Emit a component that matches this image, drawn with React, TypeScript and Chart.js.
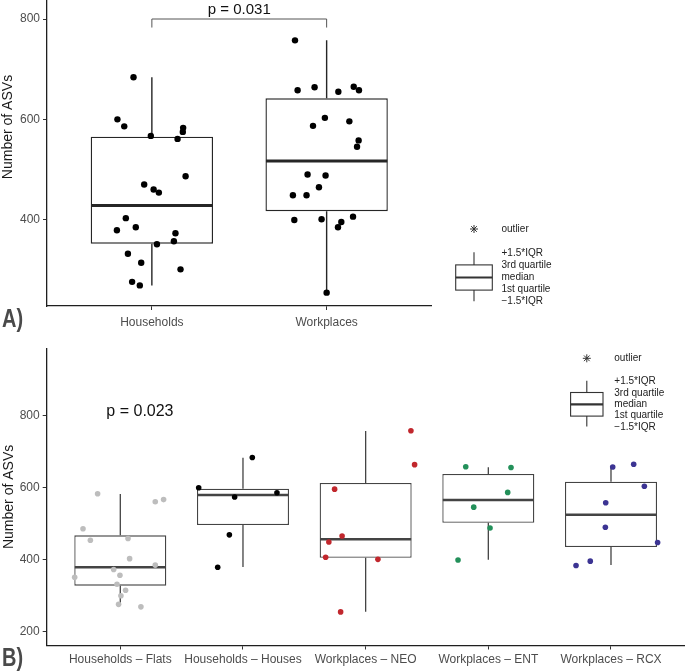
import React, { useEffect, useRef } from 'react';
import { Chart, registerables } from 'chart.js';

Chart.register(...registerables);

// ---------------- Panel A data ----------------
const panelACategories = ['Households', 'Workplaces'];
const panelAYTicks = [400, 600, 800];
const householdsValues = [684, 600, 586, 567, 583, 575, 561, 486.5, 470, 460, 454, 403, 379, 385, 373, 351, 357, 332, 314, 301, 276, 269];
const householdsJitter = [-0.105, -0.197, -0.158, -0.006, 0.179, 0.177, 0.147, 0.193, -0.044, 0.01, 0.04, -0.149, -0.2, -0.092, 0.135, 0.029, 0.126, -0.137, -0.061, 0.164, -0.113, -0.069];
const workplacesValues = [757.5, 658, 664, 655, 665, 658, 603, 587, 596, 558, 545.5, 490, 488, 464.5, 448.6, 448.6, 399.4, 400.7, 406, 395.4, 384.8, 254.5];
const workplacesJitter = [-0.181, -0.166, -0.069, 0.067, 0.155, 0.185, -0.01, -0.078, 0.13, 0.183, 0.174, -0.109, -0.006, -0.044, -0.193, -0.115, -0.185, -0.029, 0.151, 0.084, 0.065, 0];
// [lower whisker, Q1, median, Q3, upper whisker]
const householdsBox = [269, 352, 428, 565.4, 684];
const workplacesBox = [255, 417, 517, 642, 757.5];
const panelAPValue = 'p = 0.031';

// ---------------- Panel B data ----------------
const panelBCategories = ['Households \u2013 Flats', 'Households \u2013 Houses', 'Workplaces \u2013 NEO', 'Workplaces \u2013 ENT', 'Workplaces \u2013 RCX'];
const panelBYTicks = [200, 400, 600, 800];
const flatsValues = [583, 486, 454, 459, 561, 567, 403, 385, 373, 351, 357, 332, 315, 300, 276, 269];
const flatsJitter = [-0.185, -0.304, -0.244, 0.063, 0.285, 0.353, 0.076, 0.285, -0.054, -0.372, -0.003, -0.027, 0.043, 0.005, -0.014, 0.168];
const housesValues = [684, 600, 574, 586, 469, 379];
const housesJitter = [0.076, -0.361, -0.068, 0.277, -0.111, -0.206];
const neoValues = [758, 664, 401, 596, 466, 449, 407, 255];
const neoJitter = [0.369, 0.399, 0.1, -0.253, -0.192, -0.3, -0.326, -0.204];
const entValues = [658, 656, 587, 546, 488, 399];
const entJitter = [-0.184, 0.185, 0.158, -0.119, 0.014, -0.247];
const rcxValues = [657.5, 665, 604, 558, 490, 448, 384, 396];
const rcxJitter = [0.014, 0.185, 0.272, -0.043, -0.046, 0.38, -0.285, -0.169];
const flatsBox = [280, 328, 379, 467.7, 582.5];
const housesBox = [379.7, 496.4, 579.7, 597.2, 683.3];
const neoBox = [255.6, 405.6, 456.7, 613, 757.5];
const entBox = [400, 502.8, 565.8, 638, 656.7];
const rcxBox = [385.3, 435.3, 525, 616.7, 658.3];
const panelBColors = ['#bdbdbd', '#000000', '#c1272d', '#23905a', '#3c3493'];
const panelBPValue = 'p = 0.023';

const legendLabels = ['+1.5*IQR', '3rd quartile', 'median', '1st quartile', '\u22121.5*IQR'];

const SANS = '"Liberation Sans", Arial, sans-serif';

function boxExtrasPlugin(boxes: number[][], color: string, lw: number, medW: number) {
  return {
    id: 'boxExtras',
    afterDatasetDraw(chart: any, args: any) {
      if (args.index !== 0) return;
      const meta = chart.getDatasetMeta(0);
      const y = chart.scales.y;
      const ctx = chart.ctx;
      ctx.save();
      ctx.strokeStyle = color;
      boxes.forEach((b, i) => {
        const el = meta.data[i];
        const { x, width } = el.getProps(['x', 'width'], true);
        ctx.lineWidth = lw;
        ctx.beginPath();
        ctx.moveTo(x, y.getPixelForValue(b[3]));
        ctx.lineTo(x, y.getPixelForValue(b[4]));
        ctx.moveTo(x, y.getPixelForValue(b[1]));
        ctx.lineTo(x, y.getPixelForValue(b[0]));
        ctx.stroke();
        const ym = y.getPixelForValue(b[2]);
        ctx.lineWidth = medW;
        ctx.beginPath();
        ctx.moveTo(x - width / 2 + 0.5, ym);
        ctx.lineTo(x + width / 2 - 0.5, ym);
        ctx.stroke();
      });
      ctx.restore();
    },
  };
}

function drawLegend(ctx: CanvasRenderingContext2D, ox: number, oy: number, baseOff: number, step: number, halfW: number) {
  ctx.save();
  ctx.strokeStyle = '#333333';
  ctx.lineWidth = 1;
  const r = 4;
  ctx.beginPath();
  for (let k = 0; k < 4; k++) {
    const a = (k * Math.PI) / 4;
    ctx.moveTo(ox - r * Math.cos(a), oy - r * Math.sin(a));
    ctx.lineTo(ox + r * Math.cos(a), oy + r * Math.sin(a));
  }
  ctx.stroke();
  ctx.font = '10px ' + SANS;
  ctx.fillStyle = '#222222';
  ctx.textAlign = 'left';
  ctx.textBaseline = 'middle';
  const tx = ox + 27.5;
  ctx.fillText('outlier', tx, oy);
  const base = oy + baseOff;
  legendLabels.forEach((t, i) => ctx.fillText(t, tx, base + i * step));
  const bl = ox - halfW, br = ox + halfW;
  const top = base + step - 0.5, bot = base + 3 * step + 0.5, med = base + 2 * step;
  ctx.strokeStyle = '#333333';
  ctx.lineWidth = 1.1;
  ctx.strokeRect(bl, top, br - bl, bot - top);
  ctx.beginPath();
  ctx.moveTo(ox, base - 1);
  ctx.lineTo(ox, top);
  ctx.moveTo(ox, bot);
  ctx.lineTo(ox, base + 4 * step - 0.5);
  ctx.stroke();
  ctx.lineWidth = 2.2;
  ctx.beginPath();
  ctx.moveTo(bl, med);
  ctx.lineTo(br, med);
  ctx.stroke();
  ctx.restore();
}

function drawPanelLabel(ctx: CanvasRenderingContext2D, text: string, x: number, y: number) {
  ctx.save();
  ctx.translate(x, y);
  ctx.scale(0.8, 1);
  ctx.font = 'bold 25px ' + SANS;
  ctx.fillStyle = '#4a4a4a';
  ctx.textAlign = 'left';
  ctx.textBaseline = 'alphabetic';
  ctx.fillText(text, 0, 0);
  ctx.restore();
}

function zeroPad(s: any) {
  s.paddingTop = 0;
  s.paddingBottom = 0;
  s.paddingLeft = 0;
  s.paddingRight = 0;
}

function makeChart(canvas: HTMLCanvasElement, cfg: any) {
  const {
    categories, yTicks, yMin, yMax, boxes, groups, boxPct, lineColor, lineW, medW,
    pointRadius, padRight, padTop, xAxisH, yAxisW, xLabelFont, xLabelPad, extraDraw,
  } = cfg;
  const boxData = boxes.map((b: number[], i: number) => ({ x: i, y: [b[1], b[3]] }));
  const pointSets = groups.map((g: any) => ({
    type: 'scatter',
    data: g.values.map((v: number, k: number) => ({ x: g.index + g.jitter[k], y: v })),
    backgroundColor: g.color,
    borderColor: g.color,
    borderWidth: 0,
    pointRadius,
    pointHoverRadius: pointRadius,
    showLine: false,
    order: 0,
  }));
  return new Chart(canvas, {
    type: 'bar',
    data: {
      datasets: [
        {
          type: 'bar',
          data: boxData,
          backgroundColor: '#ffffff',
          borderColor: lineColor,
          borderWidth: lineW,
          borderSkipped: false,
          categoryPercentage: boxPct,
          barPercentage: 1,
          grouped: false,
          order: 1,
        } as any,
        ...pointSets,
      ],
    },
    options: {
      responsive: false,
      animation: false,
      events: [],
      layout: { padding: { left: 0, top: padTop, right: padRight, bottom: 0 }, autoPadding: false } as any,
      plugins: { legend: { display: false }, tooltip: { enabled: false }, title: { display: false } },
      scales: {
        x: {
          type: 'linear',
          offset: false,
          min: -0.6,
          max: categories.length - 1 + 0.6,
          afterBuildTicks: (s: any) => {
            s.ticks = categories.map((_: string, i: number) => ({ value: i }));
          },
          afterFit: (s: any) => {
            s.height = xAxisH;
            zeroPad(s);
          },
          ticks: {
            autoSkip: false,
            maxRotation: 0,
            minRotation: 0,
            padding: xLabelPad,
            color: '#4d4d4d',
            font: xLabelFont,
            callback: (v: any) => categories[Math.round(v)],
          },
          grid: { offset: false, drawOnChartArea: false, drawTicks: true, tickLength: 4, color: '#333333', lineWidth: 1 },
          border: { display: true, color: '#1f1f1f', width: 1.3 },
        },
        y: {
          type: 'linear',
          min: yMin,
          max: yMax,
          afterBuildTicks: (s: any) => {
            s.ticks = yTicks.map((v: number) => ({ value: v }));
          },
          afterFit: (s: any) => {
            s.width = yAxisW;
            zeroPad(s);
          },
          ticks: { padding: 3, color: '#4d4d4d', font: { family: SANS, size: 12 } },
          grid: { drawOnChartArea: false, drawTicks: true, tickLength: 4, color: '#333333', lineWidth: 1 },
          border: { display: true, color: '#1f1f1f', width: 1.3 },
        },
      },
    } as any,
    plugins: [
      boxExtrasPlugin(boxes, lineColor, lineW, medW),
      { id: 'extraText', afterDraw: (chart: any) => extraDraw(chart) },
    ],
  });
}

function drawRotated(ctx: CanvasRenderingContext2D, text: string, x: number, y: number, font: string, color: string) {
  ctx.save();
  ctx.translate(x, y);
  ctx.rotate(-Math.PI / 2);
  ctx.font = font;
  ctx.fillStyle = color;
  ctx.textAlign = 'center';
  ctx.textBaseline = 'middle';
  ctx.fillText(text, 0, 0);
  ctx.restore();
}

export default function App() {
  const refA = useRef<HTMLCanvasElement>(null);
  const refB = useRef<HTMLCanvasElement>(null);

  useEffect(() => {
    const chartA = makeChart(refA.current!, {
      categories: panelACategories,
      yTicks: panelAYTicks,
      yMin: 227.9,
      yMax: 837.9,
      boxes: [householdsBox, workplacesBox],
      groups: [
        { index: 0, values: householdsValues, jitter: householdsJitter, color: '#000000' },
        { index: 1, values: workplacesValues, jitter: workplacesJitter, color: '#000000' },
      ],
      boxPct: 0.7,
      lineColor: '#262626',
      lineW: 1.4,
      medW: 3,
      pointRadius: 3.2,
      padRight: 253.5,
      padTop: 0,
      xAxisH: 29,
      yAxisW: 47,
      xLabelFont: { family: SANS, size: 12 },
      xLabelPad: 5,
      extraDraw: (chart: any) => {
        const ctx = chart.ctx as CanvasRenderingContext2D;
        const xs = chart.scales.x;
        const ys = chart.scales.y;
        drawRotated(ctx, 'Number of ASVs', 8.5, 127, '14px ' + SANS, '#1a1a1a');
        const x0 = xs.getPixelForValue(0);
        const x1 = xs.getPixelForValue(1);
        const yb = ys.getPixelForValue(800);
        const yt = ys.getPixelForValue(783);
        ctx.save();
        ctx.strokeStyle = '#555555';
        ctx.lineWidth = 1;
        ctx.beginPath();
        ctx.moveTo(x0, yt);
        ctx.lineTo(x0, yb);
        ctx.lineTo(x1, yb);
        ctx.lineTo(x1, yt);
        ctx.stroke();
        ctx.font = '15px ' + SANS;
        ctx.fillStyle = '#111111';
        ctx.textAlign = 'center';
        ctx.textBaseline = 'middle';
        ctx.fillText(panelAPValue, (x0 + x1) / 2, yb - 9);
        ctx.restore();
        drawPanelLabel(ctx, 'A)', 2, 327);
        drawLegend(ctx, 474, 229, 24.3, 12.1, 18.3);
      },
    });

    const chartB = makeChart(refB.current!, {
      categories: panelBCategories,
      yTicks: panelBYTicks,
      yMin: 161.7,
      yMax: 987.2,
      boxes: [flatsBox, housesBox, neoBox, entBox, rcxBox],
      groups: [
        { index: 0, values: flatsValues, jitter: flatsJitter, color: panelBColors[0] },
        { index: 1, values: housesValues, jitter: housesJitter, color: panelBColors[1] },
        { index: 2, values: neoValues, jitter: neoJitter, color: panelBColors[2] },
        { index: 3, values: entValues, jitter: entJitter, color: panelBColors[3] },
        { index: 4, values: rcxValues, jitter: rcxJitter, color: panelBColors[4] },
      ],
      boxPct: 0.75,
      lineColor: '#444444',
      lineW: 1.3,
      medW: 2.4,
      pointRadius: 2.8,
      padRight: 0.4,
      padTop: 13.3,
      xAxisH: 26.5,
      yAxisW: 46.7,
      xLabelFont: { family: SANS, size: 12 },
      xLabelPad: 3,
      extraDraw: (chart: any) => {
        const ctx = chart.ctx as CanvasRenderingContext2D;
        const xs = chart.scales.x;
        const ys = chart.scales.y;
        drawRotated(ctx, 'Number of ASVs', 9, (chart.chartArea.top + chart.chartArea.bottom) / 2, '14px ' + SANS, '#1a1a1a');
        ctx.save();
        ctx.font = '16px ' + SANS;
        ctx.fillStyle = '#111111';
        ctx.textAlign = 'center';
        ctx.textBaseline = 'middle';
        ctx.fillText(panelBPValue, xs.getPixelForValue(0.16), ys.getPixelForValue(812));
        ctx.restore();
        drawPanelLabel(ctx, 'B)', 2, 331);
        drawLegend(ctx, 586.8, 358.3 - 335, 23.4, 11.3, 16.2);
      },
    });

    return () => {
      chartA.destroy();
      chartB.destroy();
    };
  }, []);

  return (
    <div style={{ position: 'absolute', left: 0, top: 0, width: 685, height: 672, background: '#ffffff' }}>
      <canvas ref={refA} width={685} height={335} style={{ position: 'absolute', left: 0, top: 0, width: 685, height: 335 }} />
      <canvas ref={refB} width={685} height={337} style={{ position: 'absolute', left: 0, top: 335, width: 685, height: 337 }} />
    </div>
  );
}
